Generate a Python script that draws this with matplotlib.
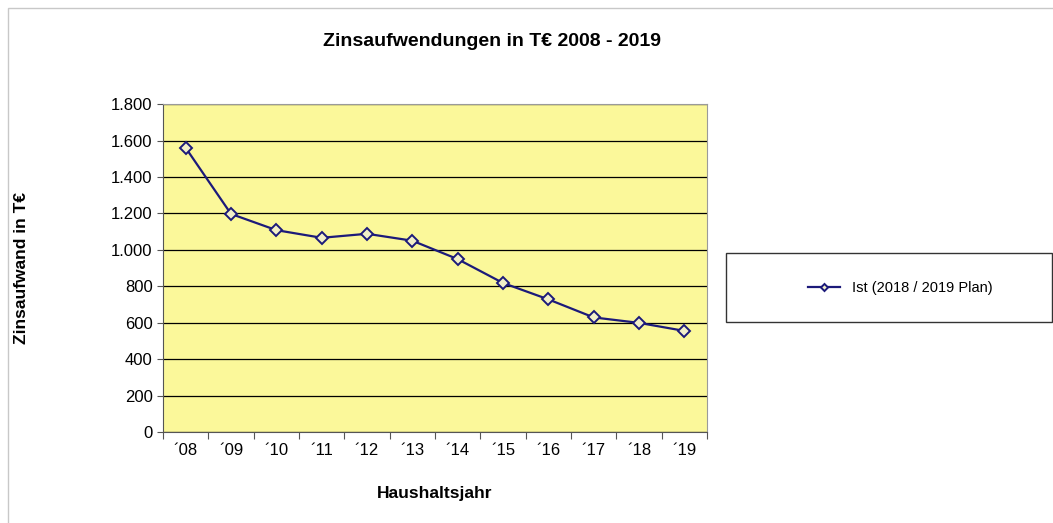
import matplotlib.pyplot as plt
from matplotlib.patches import Rectangle

plt.rcParams['font.family'] = ['Liberation Sans', 'DejaVu Sans']

# Daten
jahre = ["´08", "´09", "´10", "´11", "´12", "´13", "´14", "´15", "´16", "´17", "´18", "´19"]
zinsen = [1560, 1197, 1108, 1066, 1088, 1050, 949, 818, 728, 629, 599, 555]
y_ticks = [0, 200, 400, 600, 800, 1000, 1200, 1400, 1600, 1800]
y_labels = ["0", "200", "400", "600", "800", "1.000", "1.200", "1.400", "1.600", "1.800"]

fig = plt.figure(figsize=(10.53, 5.23), dpi=100)
ax = fig.add_axes([0.1548, 0.174, 0.5166, 0.627])

x = list(range(len(jahre)))
ax.plot(x, zinsen, color='#1c1a7a', linewidth=1.6, marker='D', markersize=6,
        markerfacecolor='#f2f0c8', markeredgecolor='#1c1a7a', markeredgewidth=1.4,
        label='Ist (2018 / 2019 Plan)', zorder=3)

ax.set_facecolor('#fbf89a')
ax.set_xlim(-0.5, len(jahre) - 0.5)
ax.set_ylim(0, 1800)
ax.set_yticks(y_ticks)
ax.set_yticklabels(y_labels, fontsize=12)
ax.set_xticks([i - 0.5 for i in range(len(jahre) + 1)])
ax.set_xticklabels([])
ax.set_xticks(x, minor=True)
ax.set_xticklabels(jahre, minor=True, fontsize=12)
ax.tick_params(axis='x', which='minor', length=0, pad=8)
ax.tick_params(axis='x', which='major', length=5, direction='out', color='#555555')
ax.tick_params(axis='y', length=4, color='#555555')
ax.yaxis.grid(True, color='black', linewidth=0.9)
ax.set_axisbelow(True)
for s in ['top', 'right']:
    ax.spines[s].set_color('#9a9a9a')
for s in ['left', 'bottom']:
    ax.spines[s].set_color('#555555')

fig.text(492 / 1053, 1 - 42 / 523, "Zinsaufwendungen in T€ 2008 - 2019", fontsize=14,
         fontweight='bold', ha='center', va='center')
ax.set_xlabel("Haushaltsjahr", fontsize=12.5, fontweight='bold', labelpad=20)
fig.text(22 / 1053, 1 - 268 / 523, "Zinsaufwand in T€", fontsize=12.5, fontweight='bold',
         rotation=90, ha='center', va='center')

# Rahmen um das Diagramm
fig.patches.append(Rectangle((8 / 1053, -0.01), 1.02, 1 - 8 / 523 + 0.01, transform=fig.transFigure,
                             fill=False, edgecolor='#c8c8c8', linewidth=1))
# Legendenkasten
fig.patches.append(Rectangle((726 / 1053, 1 - 322 / 523), 326 / 1053, 69 / 523, transform=fig.transFigure,
                             fill=False, edgecolor='#333333', linewidth=1))
h, l = ax.get_legend_handles_labels()
fig.legend(h, l, loc='center', bbox_to_anchor=(900 / 1053, 1 - 288 / 523), frameon=False,
           fontsize=10.5, handlelength=2.2, markerscale=0.6)

fig.savefig("out.png", dpi=100)
